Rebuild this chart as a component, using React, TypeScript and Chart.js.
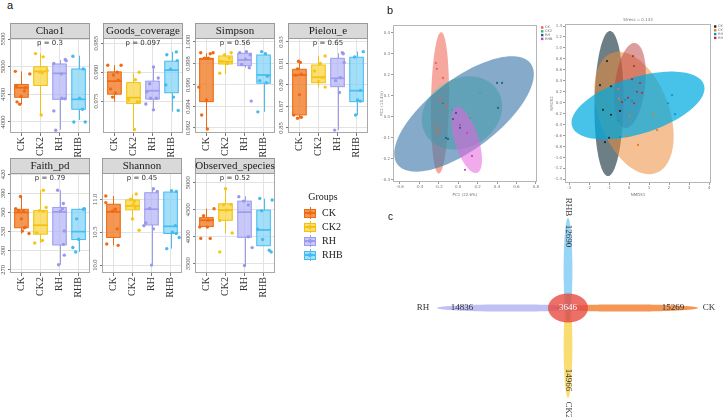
import React, { useEffect, useRef } from "react";
import { Chart, registerables } from "chart.js";

Chart.register(...registerables);

const SERIF = "'Liberation Serif', 'Times New Roman', serif";
const SANS = "'DejaVu Sans', sans-serif";

const groups = ["CK", "CK2", "RH", "RHB"];
const boxLine = ["#EC6A12", "#F2C20E", "#9C9CEE", "#45BDF0"];
const boxFill = ["rgba(241,128,45,0.82)", "rgba(250,214,72,0.78)", "rgba(176,176,246,0.7)", "rgba(125,210,248,0.7)"];
const dotColor = ["#EF6A16", "#F5C51A", "#9898EE", "#43BBF0"];

// ---------- panel a : alpha diversity (box stats = [min, q1, median, q3, max]; points = [value, jitter]) ----------
const chao1Ticks = ["4000", "4500", "5000", "5500"];
const chao1Range = [3800, 5520];
const chao1Box = [[4321, 4446, 4620, 4679, 4916], [4125, 4660, 4915, 5000, 5240], [3860, 4410, 4880, 5050, 5120], [4035, 4230, 4410, 4960, 5200]];
const chao1Pts = [
  [[4916, -0.32], [4870, 0.44], [4661, -0.26], [4620, 0.21], [4560, 0.16], [4464, -0.02], [4363, -0.23], [4321, -0.09]],
  [[5238, -0.26], [5179, 0.14], [4929, 0.35], [4905, -0.04], [4890, 0.1], [4125, 0.04]],
  [[5130, 0.3], [5110, 0.35], [5060, -0.3], [4870, 0.1], [4430, 0.12], [4420, 0.28], [4200, -0.3], [3850, -0.2]],
  [[5190, -0.3], [4960, 0.25], [4430, 0.05], [4230, 0.2], [4000, -0.25], [4000, 0.35]],
];

const goodsTicks = ["0.975", "0.980", "0.985"];
const goodsRange = [0.9695, 0.9859];
const goodsBox = [[0.9749, 0.9762, 0.97845, 0.98005, 0.9812], [0.970, 0.9746, 0.9756, 0.9782, 0.9799], [0.9734, 0.97535, 0.9768, 0.97845, 0.9809], [0.9732, 0.97645, 0.98035, 0.9819, 0.9835]];
const goodsPts = [
  [[0.9812, -0.35], [0.9812, 0.35], [0.98, 0.15], [0.9795, -0.05], [0.9786, 0.2], [0.9771, -0.2], [0.9764, 0.05], [0.9757, -0.1]],
  [[0.98, 0.3], [0.9787, 0.1], [0.9752, -0.25], [0.9749, 0.2], [0.9748, 0.3], [0.9701, 0.05]],
  [[0.9809, 0.05], [0.979, 0.3], [0.978, -0.15], [0.9766, -0.3], [0.9755, 0.2], [0.9755, -0.1], [0.9745, -0.35], [0.9735, 0.05]],
  [[0.9835, 0.25], [0.983, -0.25], [0.982, 0.3], [0.9805, -0.05], [0.9778, -0.3], [0.9757, 0.1], [0.9734, 0.35]],
];

const simpsonTicks = ["0.992", "0.994", "0.996", "0.998", "1.000"];
const simpsonRange = [0.99153, 1.00037];
const simpsonBox = [[0.99188, 0.99445, 0.99842, 0.99848, 0.99895], [0.99702, 0.99795, 0.99817, 0.9987, 0.99895], [0.99761, 0.9978, 0.99833, 0.99895, 0.9991], [0.9935, 0.99616, 0.99693, 0.99879, 0.999]];
const simpsonPts = [
  [[0.999, -0.3], [0.999, 0.35], [0.9989, 0.2], [0.9985, -0.1], [0.9985, 0.1], [0.9958, -0.4], [0.9946, 0.0], [0.9932, -0.25], [0.9919, 0.05]],
  [[0.999, 0.3], [0.9988, -0.05], [0.9985, 0.2], [0.9982, -0.2], [0.998, 0.1], [0.9971, -0.3]],
  [[0.9991, 0.1], [0.999, -0.25], [0.9988, 0.3], [0.9984, 0.05], [0.9979, -0.15], [0.9976, 0.25], [0.9945, 0.35]],
  [[0.9991, -0.1], [0.9989, 0.1], [0.9968, 0.2], [0.9964, -0.2], [0.9962, 0.15], [0.9935, -0.3]],
];

const pielouTicks = ["0.85", "0.87", "0.89", "0.91", "0.93"];
const pielouRange = [0.8453, 0.9337];
const pielouBox = [[0.859, 0.8621, 0.8993, 0.9046, 0.9126], [0.8879, 0.8921, 0.8972, 0.9086, 0.917], [0.848, 0.8884, 0.8962, 0.9148, 0.9195], [0.862, 0.8745, 0.8847, 0.9158, 0.921]];
const pielouPts = [
  [[0.912, -0.05], [0.911, 0.05], [0.905, -0.1], [0.9, 0.1], [0.899, -0.2], [0.881, 0.0], [0.862, -0.3], [0.86, 0.1], [0.859, -0.1]],
  [[0.917, 0.35], [0.91, 0.1], [0.903, -0.2], [0.897, 0.2], [0.893, 0.0], [0.888, 0.35]],
  [[0.92, 0.25], [0.919, 0.3], [0.911, 0.35], [0.897, 0.15], [0.894, -0.1], [0.883, 0.1], [0.848, -0.15]],
  [[0.921, 0.35], [0.916, -0.1], [0.885, 0.2], [0.876, 0.05], [0.875, 0.2], [0.862, -0.05]],
];

const faithTicks = ["270", "300", "330", "360", "390", "420"];
const faithRange = [265, 422];
const faithBox = [[327, 336, 360, 365, 385], [312, 326, 340, 363, 395], [278, 309, 361, 368, 395], [298, 317.5, 330, 365, 366]];
const faithPts = [
  [[385, -0.05], [366, -0.3], [363, -0.15], [362, 0.1], [350, 0.0], [337, 0.2], [336, 0.15], [331, 0.05], [327, 0.4]],
  [[395, 0.15], [368, 0.3], [363, -0.05], [362, 0.15], [328, -0.2], [316, 0.1], [312, -0.3]],
  [[395, -0.1], [374, 0.2], [366, 0.15], [362, 0.05], [331, 0.25], [310, 0.2], [293, 0.25], [278, -0.05]],
  [[366, 0.3], [365, 0.25], [350, -0.1], [318, 0.0], [305, -0.3], [298, -0.15]],
];

const shannonTicks = ["10.0", "10.5", "11.0"];
const shannonRange = [9.88, 11.4];
const shannonBox = [[10.3, 10.42, 10.81, 10.925, 11.05], [10.7, 10.84, 10.9, 10.99, 11.08], [10.0, 10.61, 10.85, 11.1, 11.16], [10.25, 10.48, 10.59, 11.11, 11.13]];
const shannonPts = [
  [[11.05, -0.4], [10.95, -0.4], [10.85, 0.1], [10.82, -0.05], [10.55, 0.2], [10.32, -0.35], [10.3, 0.25]],
  [[11.08, 0.2], [11.0, -0.1], [10.97, 0.1], [10.92, 0.05], [10.87, 0.15], [10.7, 0.0], [10.53, 0.35]],
  [[11.16, 0.1], [11.12, 0.3], [10.86, -0.1], [10.64, -0.3], [10.6, -0.4], [10.55, 0.1], [10.0, 0.0]],
  [[11.13, 0.05], [11.12, 0.3], [10.6, 0.25], [10.5, 0.1], [10.48, 0.3], [10.42, 0.45], [10.25, -0.2]],
];

const observedTicks = ["3500", "4000", "4500", "5000"];
const observedRange = [3330, 5180];
const observedBox = [[4180, 4189, 4305, 4354, 4520], [4067, 4305, 4493, 4610, 4885], [3470, 3990, 4457, 4660, 4750], [3830, 3835, 4127, 4493, 4705]];
const observedPts = [
  [[4520, 0.4], [4390, -0.15], [4305, 0.1], [4180, -0.35], [4180, 0.05], [3970, -0.3], [3970, 0.2]],
  [[4890, 0.0], [4600, 0.3], [4590, -0.1], [4490, 0.05], [4300, -0.3], [4070, 0.35], [3720, -0.3]],
  [[4740, -0.3], [4660, -0.05], [4590, 0.2], [4000, 0.2], [3800, 0.4], [3470, 0.0]],
  [[4710, -0.2], [4680, 0.45], [4480, -0.1], [4140, -0.3], [3950, -0.05], [3750, 0.3], [3720, 0.4]],
];

// ---------- panel b : ordinations ----------
const pcoaXTicks = [-0.6, -0.4, -0.2, 0, 0.2, 0.4, 0.6, 0.8];
const pcoaYTicks = [-0.3, -0.2, -0.1, 0, 0.1, 0.2, 0.3, 0.4];
const pcoaXRange = [-0.672, 0.812];
const pcoaYRange = [-0.31, 0.438];
const pcoaCenters = [[-0.188, 0.067], [0.039, 0.019], [0.06, 0.0143], [0.0856, -0.1095]];
const pcoaU = [[0.0124, 0.337], [0.392, 0.0857], [0.686, 0.2405], [0.108, -0.157]];
const pcoaV = [[0.0928, 0], [0.134, -0.152], [0.2165, -0.1333], [0.1175, 0.0171]];
const pcoaPts = [
  [[-0.229, 0.257], [-0.219, 0.229], [-0.157, 0.186], [-0.177, 0.081], [-0.229, -0.038], [-0.208, -0.062], [-0.219, -0.076], [-0.115, 0.052]],
  [[0.225, 0.114], [-0.157, 0.071], [-0.064, 0.033], [0.122, -0.005]],
  [[0.4, 0.162], [0.452, 0.162], [0.41, 0.043], [-0.157, 0.067], [-0.023, 0.019], [-0.054, -0.01], [0.019, -0.052], [-0.126, -0.1], [-0.105, -0.105]],
  [[0.142, -0.186], [0.07, -0.252], [0.019, -0.038], [0.091, -0.076]],
];

const nmdsXTicks = [-3, -2, -1, 0, 1, 2, 3, 4];
const nmdsYTicks = [-1.4, -1.2, -1.0, -0.8, -0.6, -0.4, -0.2, 0, 0.2, 0.4, 0.6, 0.8, 1.0, 1.2, 1.4];
const nmdsXRange = [-3.2, 4.1];
const nmdsYRange = [-1.466, 1.437];
const nmdsCenters = [[-1.0, -0.015], [0.25, -0.188], [0.45, -0.051], [0.05, 0.314]];
const nmdsU = [[0.05, 1.324], [1.1, -1.096], [3.3, 0.374], [0.25, 0.776]];
const nmdsV = [[0.725, 0], [-1.65, -0.219], [0.4, -0.493], [0.75, -0.033]];
const nmdsPts = [
  [[-1.1, 0.76], [-1.45, 0.32], [-0.9, 0.3], [-1.3, -0.13], [-0.9, -0.22], [-0.45, -0.15], [-1.0, -0.64], [-1.2, -0.72]],
  [[-0.55, 0.25], [-0.5, 0.07], [0.05, -0.24], [1.2, -0.21], [1.4, -0.5], [0.45, -0.77], [-0.1, -0.61]],
  [[2.15, 0.14], [1.95, -0.01], [2.3, -0.21], [-0.2, 0.05], [0.15, 0.03], [-0.55, -0.32], [-0.45, -0.63]],
  [[0.2, 0.85], [0.25, 0.67], [0.15, 0.43], [0.55, 0.36], [0.4, 0.2], [0.65, 0.18], [-0.35, 0.01], [-0.05, 0.09], [0.25, -0.01]],
];

// ---------- panel c : flower ----------
const flowerGroups = ["CK", "CK2", "RH", "RHB"];
const flowerCounts = ["15269", "14966", "14836", "12690"];
const flowerCore = "3646";

type Metric = { title: string; p: string; ticks: string[]; range: number[]; box: number[][]; pts: number[][][] };

const metrics: Metric[] = [
  { title: "Chao1", p: "p = 0.3", ticks: chao1Ticks, range: chao1Range, box: chao1Box, pts: chao1Pts },
  { title: "Goods_coverage", p: "p = 0.097", ticks: goodsTicks, range: goodsRange, box: goodsBox, pts: goodsPts },
  { title: "Simpson", p: "p = 0.56", ticks: simpsonTicks, range: simpsonRange, box: simpsonBox, pts: simpsonPts },
  { title: "Pielou_e", p: "p = 0.65", ticks: pielouTicks, range: pielouRange, box: pielouBox, pts: pielouPts },
  { title: "Faith_pd", p: "p = 0.79", ticks: faithTicks, range: faithRange, box: faithBox, pts: faithPts },
  { title: "Shannon", p: "p = 0.45", ticks: shannonTicks, range: shannonRange, box: shannonBox, pts: shannonPts },
  { title: "Observed_species", p: "p = 0.52", ticks: observedTicks, range: observedRange, box: observedBox, pts: observedPts },
];

const panelPos = [
  { left: 10, top: 23, ph: 95 },
  { left: 103, top: 23, ph: 95 },
  { left: 195, top: 23, ph: 95 },
  { left: 288, top: 23, ph: 95 },
  { left: 10, top: 158, ph: 100 },
  { left: 102, top: 158, ph: 100 },
  { left: 195, top: 158, ph: 100 },
];

const YW = 14, XH = 30, STRIP = 15, PW = 80, PR = 3;
const GRID = "#E3E3E3";

function BoxPanel({ m, left, top, ph }: { m: Metric; left: number; top: number; ph: number }) {
  const ref = useRef<HTMLCanvasElement>(null);
  const W = YW + PW + PR;
  const H = STRIP + ph + XH;
  useEffect(() => {
    const plugin = {
      id: "boxes",
      beforeDatasetsDraw(chart: any) {
        const { ctx, scales } = chart;
        const x = scales.x, y = scales.y;
        ctx.save();
        m.box.forEach((s, gi) => {
          const [mn, q1, md, q3, mx] = s;
          const cx = Math.round(x.getPixelForValue(gi + 1)) + 0.5;
          const xl = x.getPixelForValue(gi + 1 - 0.38);
          const xr = x.getPixelForValue(gi + 1 + 0.38);
          const yt = y.getPixelForValue(q3), yb = y.getPixelForValue(q1);
          ctx.strokeStyle = boxLine[gi];
          ctx.lineWidth = 1;
          ctx.beginPath();
          ctx.moveTo(cx, y.getPixelForValue(mx));
          ctx.lineTo(cx, yt);
          ctx.moveTo(cx, yb);
          ctx.lineTo(cx, y.getPixelForValue(mn));
          ctx.stroke();
          ctx.fillStyle = boxFill[gi];
          ctx.fillRect(xl, yt, xr - xl, yb - yt);
          ctx.strokeRect(xl + 0.5, yt, xr - xl - 1, yb - yt);
          const ym = y.getPixelForValue(md);
          ctx.lineWidth = 1.7;
          ctx.beginPath();
          ctx.moveTo(xl, ym);
          ctx.lineTo(xr, ym);
          ctx.stroke();
        });
        ctx.restore();
      },
      afterDraw(chart: any) {
        const { ctx, chartArea: a, scales } = chart;
        const y = scales.y;
        ctx.save();
        ctx.strokeStyle = "#A8A8A8";
        ctx.lineWidth = 1;
        ctx.strokeRect(a.left + 0.5, a.top + 0.5, a.right - a.left - 1, a.bottom - a.top - 1);
        ctx.fillStyle = "#D9D9D9";
        ctx.fillRect(a.left, a.top - STRIP, a.right - a.left, STRIP);
        ctx.strokeStyle = "#9A9A9A";
        ctx.strokeRect(a.left + 0.5, a.top - STRIP + 0.5, a.right - a.left - 1, STRIP);
        const cxm = (a.left + a.right) / 2;
        ctx.fillStyle = "#1A1A1A";
        ctx.font = `11px ${SERIF}`;
        ctx.textAlign = "center";
        ctx.textBaseline = "middle";
        ctx.fillText(m.title, cxm, a.top - STRIP / 2 + 0.5);
        ctx.font = `7px ${SANS}`;
        ctx.fillStyle = "#333";
        ctx.fillText(m.p, cxm, a.top + 5.5);
        ctx.font = `6.5px ${SERIF}`;
        ctx.fillStyle = "#4D4D4D";
        m.ticks.forEach((t) => {
          const py = y.getPixelForValue(Number(t));
          ctx.save();
          ctx.translate(a.left - 3, py);
          ctx.rotate(-Math.PI / 2);
          ctx.textAlign = "center";
          ctx.textBaseline = "bottom";
          ctx.fillText(t, 0, 0);
          ctx.restore();
        });
        ctx.restore();
      },
    };
    const chart = new Chart(ref.current as HTMLCanvasElement, {
      type: "scatter",
      data: {
        datasets: m.pts.map((g, gi) => ({
          data: g.map(([v, j]) => ({ x: gi + 1 + j, y: v })),
          pointRadius: 1.7,
          pointHoverRadius: 1.7,
          pointBorderWidth: 0,
          pointBackgroundColor: dotColor[gi],
          pointBorderColor: dotColor[gi],
        })),
      },
      options: {
        responsive: false,
        animation: false,
        events: [],
        layout: { padding: { left: 0, top: STRIP, right: PR, bottom: 0 } },
        plugins: { legend: { display: false }, tooltip: { enabled: false } },
        scales: {
          x: {
            type: "linear",
            min: 0.4,
            max: 4.6,
            afterBuildTicks: (s: any) => {
              s.ticks = groups.map((_, i) => ({ value: i + 1 }));
            },
            afterFit: (s: any) => {
              s.height = XH;
            },
            ticks: {
              autoSkip: false,
              minRotation: 90,
              maxRotation: 90,
              padding: 1,
              color: "#333",
              font: { family: SERIF, size: 10 },
              callback: (v: any) => groups[Math.round(v) - 1],
            },
            grid: { color: GRID, tickColor: "#777", tickLength: 3 },
            border: { display: false },
          },
          y: {
            type: "linear",
            min: m.range[0],
            max: m.range[1],
            afterBuildTicks: (s: any) => {
              s.ticks = m.ticks.map((t) => ({ value: Number(t) }));
            },
            afterFit: (s: any) => {
              s.width = YW;
            },
            ticks: { display: false },
            grid: { color: GRID, tickColor: "#777", tickLength: 2 },
            border: { display: false },
          },
        },
      } as any,
      plugins: [plugin],
    });
    return () => chart.destroy();
  }, []);
  return (
    <canvas
      ref={ref}
      width={W}
      height={H}
      style={{ position: "absolute", left: left - YW, top, width: W, height: H }}
    />
  );
}

type OrdCfg = {
  canvas: number[]; // left, top, width, height
  area: number[]; // left, top, right, bottom (page coords)
  xTicks: number[];
  yTicks: number[];
  xRange: number[];
  yRange: number[];
  xDec: number;
  yDec: number;
  centers: number[][];
  u: number[][];
  v: number[][];
  pts: number[][][];
  fills: string[];
  dots: string[];
  order: number[];
  xTitle: string;
  yTitle: string;
  title: string;
  legendGap: number;
};

const pcoaCfg: OrdCfg = {
  canvas: [380, 15, 180, 182],
  area: [393, 25, 537, 182],
  xTicks: pcoaXTicks,
  yTicks: pcoaYTicks,
  xRange: pcoaXRange,
  yRange: pcoaYRange,
  xDec: 1,
  yDec: 1,
  centers: pcoaCenters,
  u: pcoaU,
  v: pcoaV,
  pts: pcoaPts,
  fills: ["rgba(240,110,95,0.6)", "rgba(80,210,170,0.55)", "rgba(60,120,170,0.62)", "rgba(230,100,220,0.55)"],
  dots: ["#E8604E", "#30B08E", "#2A5E8C", "#C840C0"],
  order: [0, 1, 2, 3],
  xTitle: "PC1 (22.6%)",
  yTitle: "PC2 (13.4%)",
  title: "",
  legendGap: 3,
};

const nmdsCfg: OrdCfg = {
  canvas: [550, 10, 173, 187],
  area: [565, 24, 711, 183],
  xTicks: nmdsXTicks,
  yTicks: nmdsYTicks,
  xRange: nmdsXRange,
  yRange: nmdsYRange,
  xDec: 0,
  yDec: 1,
  centers: nmdsCenters,
  u: nmdsU,
  v: nmdsV,
  pts: nmdsPts,
  fills: ["rgba(40,65,75,0.68)", "rgba(235,140,60,0.55)", "rgba(0,170,225,0.72)", "rgba(190,60,60,0.5)"],
  dots: ["#1E2A30", "#E87820", "#0098D8", "#B83030"],
  order: [0, 1, 3, 2],
  xTitle: "NMDS1",
  yTitle: "NMDS2",
  title: "Stress = 0.133",
  legendGap: 2,
};

function Ordination({ cfg }: { cfg: OrdCfg }) {
  const ref = useRef<HTMLCanvasElement>(null);
  const [cl, ct, cw, ch] = cfg.canvas;
  const [al, at, ar, ab] = cfg.area;
  useEffect(() => {
    const plugin = {
      id: "ellipses",
      beforeDatasetsDraw(chart: any) {
        const { ctx, chartArea: a, scales } = chart;
        const x = scales.x, y = scales.y;
        ctx.save();
        ctx.beginPath();
        ctx.rect(a.left, a.top, a.right - a.left, a.bottom - a.top);
        ctx.clip();
        cfg.order.forEach((i) => {
          const c = cfg.centers[i], u = cfg.u[i], v = cfg.v[i];
          ctx.beginPath();
          const N = 120;
          for (let k = 0; k <= N; k++) {
            const t = (k / N) * Math.PI * 2;
            const dx = c[0] + u[0] * Math.cos(t) + v[0] * Math.sin(t);
            const dy = c[1] + u[1] * Math.cos(t) + v[1] * Math.sin(t);
            const px = x.getPixelForValue(dx), py = y.getPixelForValue(dy);
            if (k === 0) ctx.moveTo(px, py);
            else ctx.lineTo(px, py);
          }
          ctx.closePath();
          ctx.fillStyle = cfg.fills[i];
          ctx.fill();
        });
        ctx.restore();
      },
      afterDraw(chart: any) {
        const { ctx, chartArea: a } = chart;
        ctx.save();
        ctx.strokeStyle = "#B5B5B5";
        ctx.lineWidth = 1;
        ctx.strokeRect(a.left + 0.5, a.top + 0.5, a.right - a.left - 1, a.bottom - a.top - 1);
        ctx.font = `3.5px ${SANS}`;
        ctx.textBaseline = "middle";
        ctx.textAlign = "left";
        groups.forEach((g, i) => {
          const ly = a.top + 2.5 + i * 3.8;
          ctx.fillStyle = cfg.dots[i];
          ctx.fillRect(a.right + cfg.legendGap + 1, ly - 1.2, 2.4, 2.4);
          ctx.fillStyle = "#666";
          ctx.fillText(g, a.right + cfg.legendGap + 5, ly);
        });
        if (cfg.title) {
          ctx.textAlign = "center";
          ctx.fillStyle = "#777";
          ctx.font = `4px ${SANS}`;
          ctx.fillText(cfg.title, (a.left + a.right) / 2, a.top - 4);
        }
        ctx.restore();
      },
    };
    const chart = new Chart(ref.current as HTMLCanvasElement, {
      type: "scatter",
      data: {
        datasets: cfg.pts.map((g, gi) => ({
          data: g.map(([px, py]) => ({ x: px, y: py })),
          pointRadius: 1.1,
          pointHoverRadius: 1.1,
          pointBorderWidth: 0,
          pointBackgroundColor: cfg.dots[gi],
        })),
      },
      options: {
        responsive: false,
        animation: false,
        events: [],
        layout: { padding: { left: 0, top: at - ct, right: cl + cw - ar, bottom: 0 } },
        plugins: { legend: { display: false }, tooltip: { enabled: false } },
        scales: {
          x: {
            type: "linear",
            min: cfg.xRange[0],
            max: cfg.xRange[1],
            afterBuildTicks: (s: any) => {
              s.ticks = cfg.xTicks.map((v) => ({ value: v }));
            },
            afterFit: (s: any) => {
              s.height = ct + ch - ab;
            },
            ticks: {
              autoSkip: false,
              maxRotation: 0,
              padding: 1,
              color: "#777",
              font: { family: SANS, size: 4 },
              callback: (v: any) => Number(v).toFixed(cfg.xDec),
            },
            title: { display: true, text: cfg.xTitle, color: "#777", font: { family: SANS, size: 4 }, padding: 0 },
            grid: { drawOnChartArea: false, drawTicks: true, tickLength: 2, tickColor: "#999" },
            border: { display: false },
          },
          y: {
            type: "linear",
            min: cfg.yRange[0],
            max: cfg.yRange[1],
            afterBuildTicks: (s: any) => {
              s.ticks = cfg.yTicks.map((v) => ({ value: v }));
            },
            afterFit: (s: any) => {
              s.width = al - cl;
            },
            ticks: {
              autoSkip: false,
              padding: 1,
              color: "#777",
              font: { family: SANS, size: 4 },
              callback: (v: any) => Number(v).toFixed(cfg.yDec),
            },
            title: { display: true, text: cfg.yTitle, color: "#777", font: { family: SANS, size: 4 }, padding: 0 },
            grid: { drawOnChartArea: false, drawTicks: true, tickLength: 2, tickColor: "#999" },
            border: { display: false },
          },
        },
      } as any,
      plugins: [plugin],
    });
    return () => chart.destroy();
  }, []);
  return (
    <canvas ref={ref} width={cw} height={ch} style={{ position: "absolute", left: cl, top: ct, width: cw, height: ch }} />
  );
}

// flower geometry (units = pixels around the flower centre)
const petalCenter = [[57, 0], [0, -38], [-57, 0], [0, 38]];
const petalRadii = [[73, 3.6], [4.4, 52], [74, 3.6], [4.4, 52]];
const petalFill = ["rgba(242,128,48,0.82)", "rgba(248,212,80,0.8)", "rgba(168,168,240,0.72)", "rgba(125,202,245,0.8)"];
const nameAt = [[141, 0], [0, -102], [-145, 0], [0, 101]];
const countAt = [[105, 0], [0, -72], [-106, 0], [0, 72]];
const vertical = [false, true, false, true];

function Flower() {
  const ref = useRef<HTMLCanvasElement>(null);
  const cl = 380, ct = 195, cw = 343, ch = 222;
  const fx = 568, fy = 308;
  useEffect(() => {
    const ell = (ctx: any, x: any, y: any, cx: number, cy: number, rx: number, ry: number) => {
      const N = 160;
      ctx.beginPath();
      for (let k = 0; k <= N; k++) {
        const t = (k / N) * Math.PI * 2;
        const px = x.getPixelForValue(cx + rx * Math.cos(t));
        const py = y.getPixelForValue(cy + ry * Math.sin(t));
        if (k === 0) ctx.moveTo(px, py);
        else ctx.lineTo(px, py);
      }
      ctx.closePath();
    };
    const txt = (ctx: any, s: string, px: number, py: number, rot: boolean) => {
      ctx.save();
      ctx.translate(px, py);
      if (rot) ctx.rotate(Math.PI / 2);
      ctx.textAlign = "center";
      ctx.textBaseline = "middle";
      ctx.fillText(s, 0, 0);
      ctx.restore();
    };
    const plugin = {
      id: "flower",
      afterDraw(chart: any) {
        const { ctx, scales } = chart;
        const x = scales.x, y = scales.y;
        ctx.save();
        flowerGroups.forEach((_, i) => {
          ell(ctx, x, y, petalCenter[i][0], petalCenter[i][1], petalRadii[i][0], petalRadii[i][1]);
          ctx.fillStyle = petalFill[i];
          ctx.fill();
        });
        ell(ctx, x, y, 0, 0, 20, 14.5);
        ctx.fillStyle = "rgba(232,72,62,0.78)";
        ctx.fill();
        ctx.font = `9px ${SERIF}`;
        ctx.fillStyle = "#333";
        flowerGroups.forEach((g, i) => {
          txt(ctx, g, x.getPixelForValue(nameAt[i][0]), y.getPixelForValue(nameAt[i][1]), vertical[i]);
          txt(ctx, flowerCounts[i], x.getPixelForValue(countAt[i][0]), y.getPixelForValue(countAt[i][1]), vertical[i]);
        });
        ctx.fillStyle = "#FFFFFF";
        txt(ctx, flowerCore, x.getPixelForValue(0), y.getPixelForValue(0), false);
        ctx.restore();
      },
    };
    const chart = new Chart(ref.current as HTMLCanvasElement, {
      type: "scatter",
      data: { datasets: [] },
      options: {
        responsive: false,
        animation: false,
        events: [],
        layout: { padding: 0 },
        plugins: { legend: { display: false }, tooltip: { enabled: false } },
        scales: {
          x: { type: "linear", display: false, min: cl - fx, max: cl + cw - fx },
          y: { type: "linear", display: false, min: fy - (ct + ch), max: fy - ct },
        },
      } as any,
      plugins: [plugin],
    });
    return () => chart.destroy();
  }, []);
  return (
    <canvas ref={ref} width={cw} height={ch} style={{ position: "absolute", left: cl, top: ct, width: cw, height: ch }} />
  );
}

const legendY = [213, 227, 241, 255];

export default function App() {
  const label = (t: string, left: number, top: number, size: number) => (
    <div style={{ position: "absolute", left, top, fontFamily: "'Liberation Sans', Arial, sans-serif", fontSize: size, lineHeight: `${size}px`, color: "#111" }}>
      {t}
    </div>
  );
  return (
    <div style={{ position: "absolute", left: 0, top: 0, width: 723, height: 417, background: "#fff", overflow: "hidden" }}>
      {metrics.map((m, i) => (
        <BoxPanel key={m.title} m={m} left={panelPos[i].left} top={panelPos[i].top} ph={panelPos[i].ph} />
      ))}
      <div style={{ position: "absolute", left: 300, top: 191, width: 46, textAlign: "center", fontFamily: SERIF, fontSize: 10, lineHeight: "12px", color: "#1A1A1A" }}>
        Groups
      </div>
      {groups.map((g, i) => (
        <React.Fragment key={g}>
          <div style={{ position: "absolute", left: 304, top: legendY[i] - 6, width: 12, height: 12 }}>
            <div style={{ position: "absolute", left: 5.5, top: 0, width: 1, height: 12, background: boxLine[i] }} />
            <div style={{ position: "absolute", left: 0, top: 2, width: 10, height: 7, background: boxFill[i], border: `1px solid ${boxLine[i]}` }} />
            <div style={{ position: "absolute", left: 0, top: 5.4, width: 12, height: 1.4, background: boxLine[i] }} />
            <div style={{ position: "absolute", left: 4.3, top: 4.3, width: 3.4, height: 3.4, borderRadius: 2, background: dotColor[i] }} />
          </div>
          <div style={{ position: "absolute", left: 322, top: legendY[i] - 6, fontFamily: SERIF, fontSize: 10, lineHeight: "12px", color: "#1A1A1A" }}>
            {g}
          </div>
        </React.Fragment>
      ))}
      <Ordination cfg={pcoaCfg} />
      <Ordination cfg={nmdsCfg} />
      <Flower />
      {label("a", 7, 0, 11)}
      {label("b", 387, 5, 11)}
      {label("c", 388, 212, 10)}
    </div>
  );
}
